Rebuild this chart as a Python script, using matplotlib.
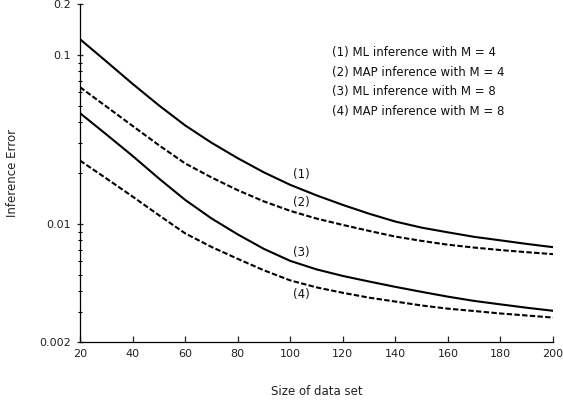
import numpy as np
import matplotlib
matplotlib.use("Agg")
import matplotlib.pyplot as plt
from matplotlib.ticker import FixedLocator, NullFormatter

## Donnees (pas de 10)
sizes = [20, 30, 40, 50, 60, 70, 80, 90, 100, 110, 120, 130, 140, 150, 160, 170, 180, 190, 200]
ml_m4 = [0.1238, 0.0915, 0.0674, 0.0503, 0.03827, 0.03024, 0.02448, 0.02017, 0.01702, 0.01475,
         0.01295, 0.01149, 0.01032, 0.00950, 0.00891, 0.00838, 0.00799, 0.00761, 0.00728]
map_m4 = [0.0644, 0.0495, 0.0380, 0.02922, 0.02280, 0.01884, 0.01583, 0.01358, 0.01194, 0.01075,
          0.00986, 0.00909, 0.00841, 0.00793, 0.00753, 0.00724, 0.00700, 0.00680, 0.00662]
ml_m8 = [0.0452, 0.03386, 0.02525, 0.01858, 0.01387, 0.01078, 0.00867, 0.00711, 0.00604, 0.00538,
         0.00492, 0.00456, 0.00424, 0.00396, 0.00371, 0.00350, 0.00334, 0.00319, 0.00306]
map_m8 = [0.02369, 0.01858, 0.01451, 0.01126, 0.00879, 0.00731, 0.00621, 0.00531, 0.00463, 0.00421,
          0.00391, 0.00366, 0.00347, 0.00329, 0.00315, 0.00305, 0.00295, 0.00287, 0.00279]

legend_lines = ["(1) ML inference with M = 4",
                "(2) MAP inference with M = 4",
                "(3) ML inference with M = 8",
                "(4) MAP inference with M = 8"]
curve_tags = ["(1)", "(2)", "(3)", "(4)"]
tag_values = [0.0197, 0.01343, 0.00676, 0.00384]

yticks = [0.002, 0.01, 0.1, 0.2]
ytick_labels = ["0.002", "0.01", "0.1", "0.2"]
xticks = [20, 40, 60, 80, 100, 120, 140, 160, 180, 200]

fig = plt.figure(figsize=(5.63, 4.08), dpi=100)
ax = fig.add_axes([80/563, 1 - 342/408, 473/563, 338/408])

dash = (0, (2.6, 1.1))
kw = dict(color="black", lw=1.5, solid_joinstyle="round", dash_joinstyle="round")
ax.plot(sizes, ml_m4, **kw)
ax.plot(sizes, map_m4, linestyle=dash, **kw)
ax.plot(sizes, ml_m8, **kw)
ax.plot(sizes, map_m8, linestyle=dash, **kw)

ax.set_yscale("log")
ax.set_xlim(20, 200)
ax.set_ylim(0.002, 0.2)

ax.set_xticks(xticks)
ax.set_yticks(yticks)
ax.set_yticklabels(ytick_labels)
minors = [k * 10.0**e for e in (-3, -2) for k in range(2, 10)]
minors = [v for v in minors if 0.002 < v < 0.1]
ax.yaxis.set_minor_locator(FixedLocator(minors))
ax.yaxis.set_minor_formatter(NullFormatter())
ax.xaxis.set_minor_locator(FixedLocator([]))

ax.tick_params(axis="x", direction="in", length=4, width=0.9, pad=5, labelsize=8, colors="#222222")
ax.tick_params(axis="y", which="major", direction="inout", length=5, width=0.9, pad=4, labelsize=8, colors="#222222")
ax.tick_params(axis="y", which="minor", direction="inout", length=3, width=0.8)

for s in ["top", "right"]:
    ax.spines[s].set_visible(False)
for s in ["left", "bottom"]:
    ax.spines[s].set_linewidth(0.9)

ax.set_xlabel("Size of data set", fontsize=8.5, color="#222222")
ax.xaxis.set_label_coords(0.5, -0.128)
ax.set_ylabel("Inference Error", fontsize=8.5, color="#222222")
ax.yaxis.set_label_coords(-0.128, 0.5)

for i, t in enumerate(legend_lines):
    ax.text(0.533, 0.857 - i * 0.0585, t, transform=ax.transAxes,
            fontsize=8.5, ha="left", va="center", color="#111111")

for t, v in zip(curve_tags, tag_values):
    ax.text(104.2, v, t, fontsize=8.5, ha="center", va="center", color="#111111")

plt.savefig("out.png", dpi=100)
